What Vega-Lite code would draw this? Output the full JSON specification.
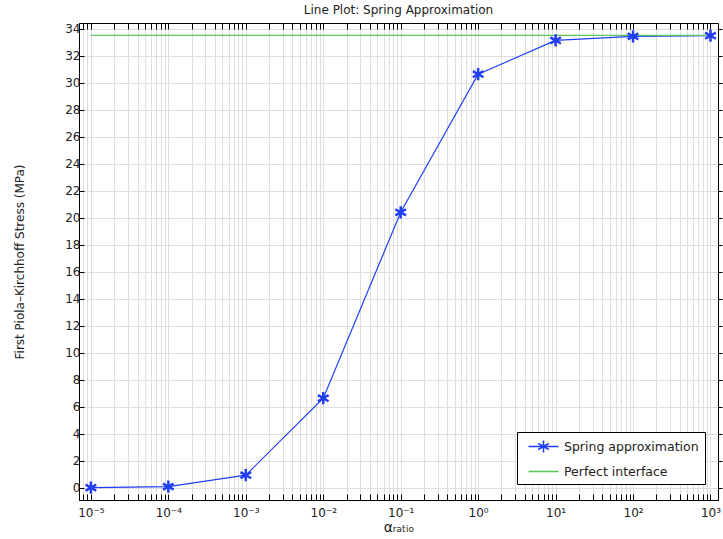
{
  "$schema": "https://vega.github.io/schema/vega-lite/v6.json",
  "autosize": "none",
  "width": 639,
  "height": 477,
  "padding": {"left": 79, "top": 23, "right": 5, "bottom": 39},
  "background": "white",
  "title": {"text": "Line Plot: Spring Approximation", "font": "DejaVu Sans", "fontSize": 12, "fontWeight": "normal", "color": "#222222", "offset": 6},
  "config": {
    "font": "DejaVu Sans",
    "view": {"stroke": "black", "strokeWidth": 1},
    "axis": {"labelFont": "DejaVu Sans", "labelFontSize": 12, "labelColor": "#222222", "titleFont": "DejaVu Sans", "titleFontSize": 12, "titleFontWeight": "normal", "titleColor": "#222222", "domainColor": "black", "tickColor": "black", "gridColor": "#dedede", "gridWidth": 1}
  },
  "data": {"values": [
    {"x": 0.00001, "y": 0.02, "series": "Spring approximation"},
    {"x": 0.0001, "y": 0.1, "series": "Spring approximation"},
    {"x": 0.001, "y": 0.95, "series": "Spring approximation"},
    {"x": 0.01, "y": 6.65, "series": "Spring approximation"},
    {"x": 0.1, "y": 20.42, "series": "Spring approximation"},
    {"x": 1, "y": 30.65, "series": "Spring approximation"},
    {"x": 10, "y": 33.15, "series": "Spring approximation"},
    {"x": 100, "y": 33.45, "series": "Spring approximation"},
    {"x": 1000, "y": 33.5, "series": "Spring approximation"},
    {"x": 0.00001, "y": 33.52, "series": "Perfect interface"},
    {"x": 1000, "y": 33.52, "series": "Perfect interface"}
  ]},
  "resolve": {"axis": {"x": "independent", "y": "independent"}},
  "layer": [
    {
      "mark": {"type": "line", "strokeWidth": 1.2, "clip": true},
      "encoding": {
        "x": {"field": "x", "type": "quantitative",
          "scale": {"type": "log", "domain": [0.00000702, 1250], "nice": false},
          "axis": {"orient": "bottom", "title": "αᵣₐₜᵢₒ", "titleFontSize": 14, "titlePadding": 2,
            "values": [0.000007,0.000008,0.000009,0.00001,0.00002,0.00003,0.00004,0.00005,0.00006,0.00007,0.00008,0.00009,0.0001,0.0002,0.0003,0.0004,0.0005,0.0006,0.0007,0.0008,0.0009,0.001,0.002,0.003,0.004,0.005,0.006,0.007,0.008,0.009,0.01,0.02,0.03,0.04,0.05,0.06,0.07,0.08,0.09,0.1,0.2,0.3,0.4,0.5,0.6,0.7,0.8,0.9,1,2,3,4,5,6,7,8,9,10,20,30,40,50,60,70,80,90,100,200,300,400,500,600,700,800,900,1000],
            "labelExpr": "abs(log(datum.value)/LN10 - round(log(datum.value)/LN10)) < 0.001 ? '10' + ['⁻⁵','⁻⁴','⁻³','⁻²','⁻¹','⁰','¹','²','³'][round(log(datum.value)/LN10)+5] : ''",
            "labelOverlap": false, "labelFlush": false, "tickSize": -6, "labelPadding": 13, "grid": true}},
        "y": {"field": "y", "type": "quantitative",
          "scale": {"domain": [-0.89, 34.44], "nice": false, "zero": false},
          "axis": {"orient": "left", "title": "First Piola–Kirchhoff Stress (MPa)", "values": [0,2,4,6,8,10,12,14,16,18,20,22,24,26,28,30,32,34], "tickSize": -5, "labelPadding": 4, "titlePadding": 38, "grid": true}},
        "color": {"field": "series", "type": "nominal",
          "scale": {"domain": ["Spring approximation", "Perfect interface"], "range": ["#1f3ef5", "#5cc65c"]},
          "legend": {"orient": "none", "legendX": 438, "legendY": 409, "title": null, "fillColor": "white", "strokeColor": "black", "padding": 6, "labelFontSize": 12.5, "labelColor": "#222222", "labelFont": "DejaVu Sans", "symbolSize": 225, "symbolStrokeWidth": 1.6, "symbolOffset": 12, "rowPadding": 7, "labelOffset": 12,
            "encode": {"symbols": {"update": {"shape": {"signal": "datum.value === 'Spring approximation' ? 'M-2,0L2,0M0,-0.8L0,0.8M-0.7,-0.4L0.7,0.4M-0.7,0.4L0.7,-0.4' : 'M-2,0L2,0'"}, "fill": {"value": "transparent"}}}}}}
      }
    },
    {
      "transform": [{"filter": "datum.series === 'Spring approximation'"}],
      "mark": {"type": "point", "shape": "M0,-1L0,1M-0.87,-0.5L0.87,0.5M-0.87,0.5L0.87,-0.5", "filled": false, "size": 150, "strokeWidth": 2.5, "color": "#1f3ef5", "opacity": 1, "clip": true},
      "encoding": {
        "x": {"field": "x", "type": "quantitative", "scale": {"type": "log"},
          "axis": {"orient": "top", "title": null, "labels": false, "grid": false, "tickSize": -6,
            "values": [0.000007,0.000008,0.000009,0.00001,0.00002,0.00003,0.00004,0.00005,0.00006,0.00007,0.00008,0.00009,0.0001,0.0002,0.0003,0.0004,0.0005,0.0006,0.0007,0.0008,0.0009,0.001,0.002,0.003,0.004,0.005,0.006,0.007,0.008,0.009,0.01,0.02,0.03,0.04,0.05,0.06,0.07,0.08,0.09,0.1,0.2,0.3,0.4,0.5,0.6,0.7,0.8,0.9,1,2,3,4,5,6,7,8,9,10,20,30,40,50,60,70,80,90,100,200,300,400,500,600,700,800,900,1000]}},
        "y": {"field": "y", "type": "quantitative",
          "axis": {"orient": "right", "title": null, "labels": false, "grid": false, "tickSize": 4, "values": [0,2,4,6,8,10,12,14,16,18,20,22,24,26,28,30,32,34]}}
      }
    }
  ]
}
